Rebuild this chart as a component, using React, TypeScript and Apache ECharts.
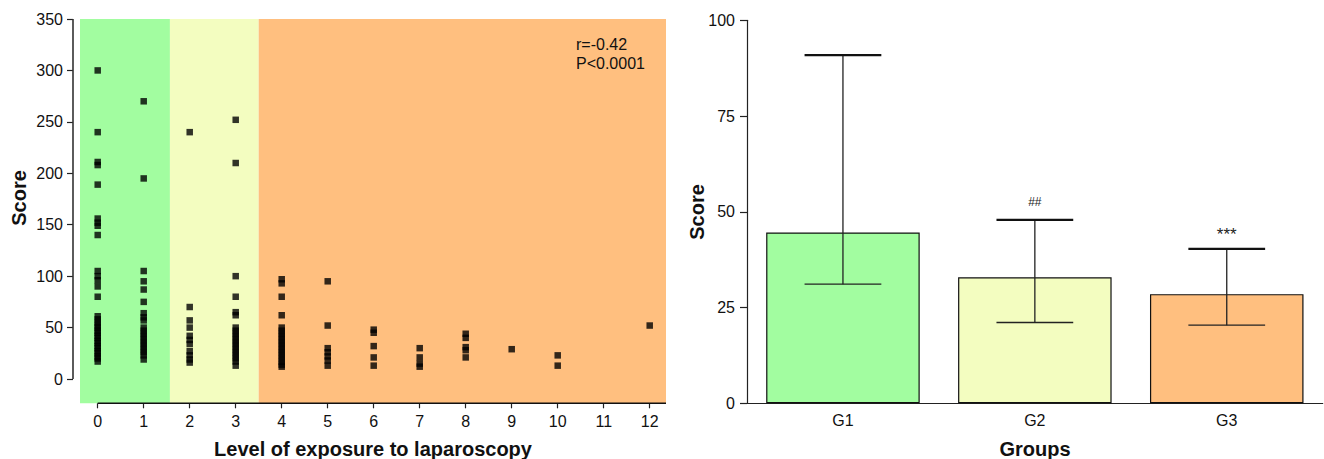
import React, { useEffect, useRef } from 'react';
import * as echarts from 'echarts';

const FONT = '"Liberation Sans", Arial, Helvetica, sans-serif';

// ---------- Left chart data ----------
const exposureLevels = [0, 1, 2, 3, 4, 5, 6, 7, 8, 9, 10, 12];
const level0 = [300, 240, 211, 208, 189, 156, 152, 149, 140, 105, 100, 96, 90, 80, 61, 58, 55, 52, 50, 47, 45, 42, 40, 37, 35, 32, 30, 27, 25, 22, 20, 17];
const level1 = [270, 195, 105, 95, 87, 75, 64, 60, 57, 50, 47, 44, 41, 38, 35, 32, 29, 26, 23, 19];
const level2 = [240, 70, 57, 50, 42, 38, 34, 27, 23, 19, 16];
const level3 = [252, 210, 100, 80, 65, 62, 50, 47, 44, 41, 38, 35, 32, 29, 26, 23, 20, 17, 13];
const level4 = [97, 93, 80, 62, 50, 47, 44, 41, 38, 35, 32, 29, 26, 23, 20, 17, 14, 12];
const level5 = [95, 52, 30, 26, 22, 18, 13];
const level6 = [48, 45, 32, 21, 13];
const level7 = [30, 21, 15, 12];
const level8 = [44, 40, 31, 28, 21];
const level9 = [29];
const level10 = [23, 13];
const level12 = [52];
const scoresByLevel = [level0, level1, level2, level3, level4, level5, level6, level7, level8, level9, level10, level12];

const xTickValues = [0, 1, 2, 3, 4, 5, 6, 7, 8, 9, 10, 11, 12];
const yTickValues = [0, 50, 100, 150, 200, 250, 300, 350];
const X_MIN = -0.385;
const X_MAX = 12.354;
const Y_MIN = -23.6;
const Y_MAX = 350;

const zoneStarts = [X_MIN, 1.57, 3.5];
const zoneEnds = [1.57, 3.5, X_MAX];
const zoneColors = ['#a2fda0', '#f3fdc0', '#ffbf7f'];

const corrText = 'r=-0.42\nP<0.0001';

// ---------- Right chart data ----------
const groups = ['G1', 'G2', 'G3'];
const groupMeans = [44.6, 32.9, 28.5];
const groupUpper = [90.9, 47.9, 40.3];
const groupLower = [31.1, 21.1, 20.4];
const groupMarks = ['', '##', '***'];
const groupColors = ['#a2fda0', '#f3fdc0', '#ffbf7f'];

export default function App() {
  const ref = useRef<HTMLDivElement>(null);

  useEffect(() => {
    if (!ref.current) return;
    const chart = echarts.init(ref.current, undefined, { renderer: 'svg' });

    const scatterData: number[][] = [];
    scoresByLevel.forEach((arr, i) => {
      arr.forEach((v) => scatterData.push([exposureLevels[i], v]));
    });

    const zoneData = zoneStarts.map((s, i) => [s, zoneEnds[i]]);
    const errData = groups.map((_, i) => [i, groupLower[i], groupUpper[i]]);

    const axisColor = '#222';
    const titleStyle = { fontSize: 20, fontWeight: 'bold', fontFamily: FONT, fill: '#111', align: 'center', verticalAlign: 'middle' };

    const option: any = {
      animation: false,
      backgroundColor: '#fff',
      textStyle: { fontFamily: FONT },
      grid: [
        { left: 80, top: 19, width: 586, height: 384.3 },
        { left: 747, top: 20.3, width: 575.7, height: 383 },
      ],
      xAxis: [
        {
          type: 'value',
          gridIndex: 0,
          min: X_MIN,
          max: X_MAX,
          splitLine: { show: false },
          axisLine: { show: false, onZero: false },
          axisTick: { show: true, length: 5, customValues: xTickValues, lineStyle: { color: axisColor, width: 1.2 } },
          axisLabel: { customValues: xTickValues, margin: 10, fontSize: 16, color: '#111', fontFamily: FONT },
        },
        {
          type: 'category',
          gridIndex: 1,
          data: groups,
          axisTick: { show: false },
          axisLine: { show: true, onZero: false, lineStyle: { color: axisColor, width: 1.2 } },
          axisLabel: { margin: 9, fontSize: 16, color: '#111', fontFamily: FONT },
        },
      ],
      yAxis: [
        {
          type: 'value',
          gridIndex: 0,
          min: Y_MIN,
          max: Y_MAX,
          offset: 7,
          splitLine: { show: false },
          axisLine: { show: false, onZero: false },
          axisTick: { show: true, length: 6, customValues: yTickValues, lineStyle: { color: axisColor, width: 1.2 } },
          axisLabel: { customValues: yTickValues, margin: 10, fontSize: 16, color: '#111', fontFamily: FONT },
        },
        {
          type: 'value',
          gridIndex: 1,
          min: 0,
          max: 100,
          interval: 25,
          splitLine: { show: false },
          axisLine: { show: true, onZero: false, lineStyle: { color: axisColor, width: 1.2 } },
          axisTick: { show: true, length: 7, lineStyle: { color: axisColor, width: 1.2 } },
          axisLabel: { margin: 12, fontSize: 16, color: '#111', fontFamily: FONT },
        },
      ],
      graphic: [
        { type: 'text', x: 19, y: 198, rotation: Math.PI / 2, z: 100, style: { text: 'Score', ...titleStyle } },
        { type: 'text', x: 373, y: 449, z: 100, style: { text: 'Level of exposure to laparoscopy', ...titleStyle } },
        {
          type: 'text', x: 576, y: 35, z: 100,
          style: { text: corrText, fontSize: 16, lineHeight: 19, fontFamily: FONT, fill: '#111', align: 'left', verticalAlign: 'top' },
        },
        { type: 'text', x: 697, y: 212, rotation: Math.PI / 2, z: 100, style: { text: 'Score', ...titleStyle } },
        { type: 'text', x: 1035, y: 449, z: 100, style: { text: 'Groups', ...titleStyle } },
      ],
      series: [
        {
          type: 'custom',
          xAxisIndex: 0,
          yAxisIndex: 0,
          z: 0,
          silent: true,
          clip: false,
          data: zoneData,
          renderItem: (params: any, api: any) => {
            const p1 = api.coord([api.value(0), Y_MAX]);
            const p2 = api.coord([api.value(1), Y_MIN]);
            return {
              type: 'rect',
              shape: { x: p1[0], y: p1[1], width: p2[0] - p1[0], height: p2[1] - p1[1] },
              style: { fill: zoneColors[params.dataIndex] },
            };
          },
        },
        {
          type: 'custom',
          xAxisIndex: 0,
          yAxisIndex: 0,
          z: 4,
          silent: true,
          clip: false,
          data: [[0, 0]],
          renderItem: (_params: any, api: any) => {
            const y0 = api.coord([X_MIN, 0]);
            const y1 = api.coord([X_MIN, Y_MAX]);
            const xa = api.coord([0, Y_MIN]);
            const xb = api.coord([X_MAX, Y_MIN]);
            return {
              type: 'group',
              children: [
                {
                  type: 'line',
                  shape: { x1: y0[0] - 7, y1: y0[1], x2: y1[0] - 7, y2: y1[1] },
                  style: { stroke: '#333', lineWidth: 1.6 },
                },
                {
                  type: 'line',
                  shape: { x1: xa[0], y1: xa[1], x2: xb[0], y2: xb[1] },
                  style: { stroke: '#111', lineWidth: 1.6 },
                },
              ],
            };
          },
        },
        {
          type: 'scatter',
          xAxisIndex: 0,
          yAxisIndex: 0,
          z: 3,
          symbol: 'rect',
          symbolSize: 6.5,
          itemStyle: { color: '#000' },
          data: scatterData,
        },
        {
          type: 'bar',
          xAxisIndex: 1,
          yAxisIndex: 1,
          barCategoryGap: '20%',
          z: 2,
          data: groupMeans.map((v, i) => ({ value: v, itemStyle: { color: groupColors[i] } })),
          itemStyle: { borderColor: '#111', borderWidth: 1.2 },
        },
        {
          type: 'custom',
          xAxisIndex: 1,
          yAxisIndex: 1,
          z: 5,
          silent: true,
          data: errData,
          renderItem: (params: any, api: any) => {
            const idx = api.value(0);
            const lo = api.coord([idx, api.value(1)]);
            const hi = api.coord([idx, api.value(2)]);
            const half = api.size([1, 0])[0] * 0.2;
            const cx = lo[0];
            const mark = groupMarks[params.dataIndex];
            const children: any[] = [
              { type: 'line', shape: { x1: cx, y1: lo[1], x2: cx, y2: hi[1] }, style: { stroke: '#222', lineWidth: 1.3 } },
              { type: 'line', shape: { x1: cx - half, y1: lo[1], x2: cx + half, y2: lo[1] }, style: { stroke: '#222', lineWidth: 1.3 } },
              { type: 'line', shape: { x1: cx - half, y1: hi[1], x2: cx + half, y2: hi[1] }, style: { stroke: '#111', lineWidth: 2.2 } },
            ];
            if (mark) {
              const isStar = mark.indexOf('*') >= 0;
              children.push({
                type: 'text',
                x: cx,
                y: hi[1] - (isStar ? 14 : 18),
                style: {
                  text: mark,
                  fontSize: isStar ? 17 : 12,
                  fontFamily: FONT,
                  fill: '#222',
                  align: 'center',
                  verticalAlign: 'middle',
                },
              });
            }
            return { type: 'group', children };
          },
        },
      ],
    };

    chart.setOption(option);
    return () => chart.dispose();
  }, []);

  return (
    <div
      ref={ref}
      style={{ position: 'fixed', left: 0, top: 0, width: 1324, height: 459, background: '#fff' }}
    />
  );
}
